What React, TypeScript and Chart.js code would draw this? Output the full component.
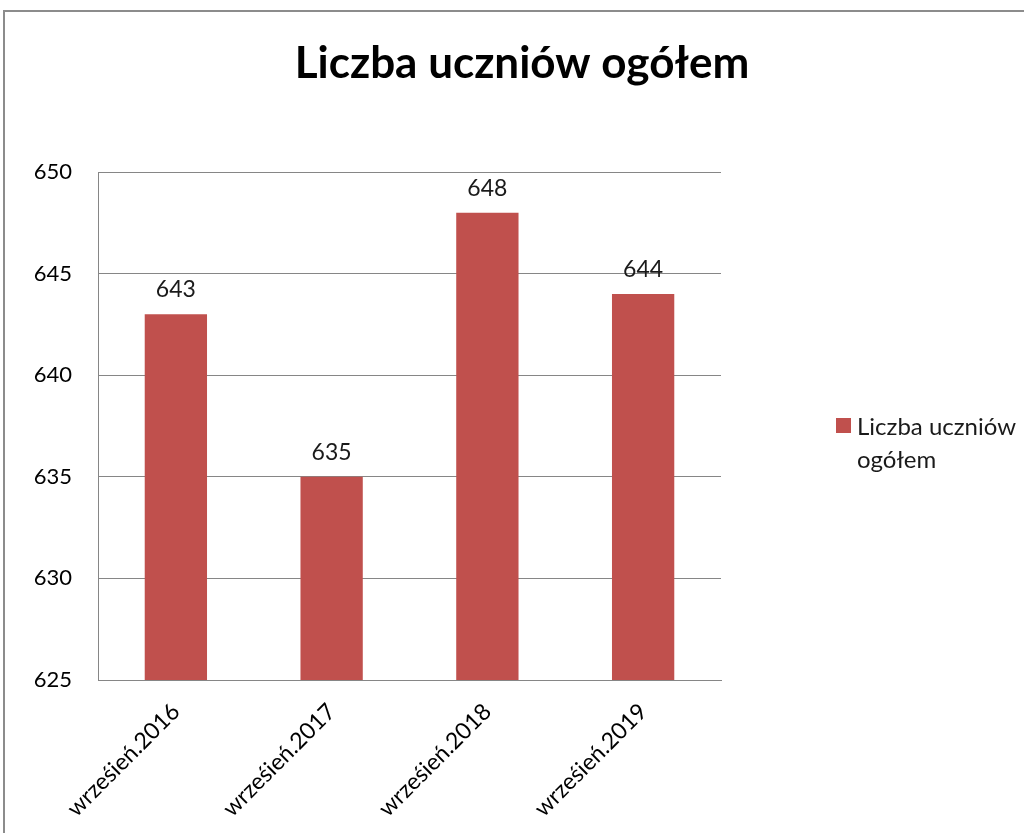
import React, { useEffect, useRef } from "react";
import { Chart, registerables } from "chart.js";

Chart.register(...registerables);

const TITLE = "Liczba uczniów ogółem";
const SERIES_NAME = "Liczba uczniów ogółem";
const categories = ["wrześień.2016", "wrześień.2017", "wrześień.2018", "wrześień.2019"];
const values = [643, 635, 648, 644];
const yMin = 625;
const yMax = 650;
const yStep = 5;

const BAR_COLOR = "#C0504D";
const GRID_COLOR = "#868686";
const FONT = "Lato, 'Open Sans', sans-serif";
const CANVAS_W = 1044;
const CANVAS_H = 900;

const titlePlugin = {
  id: "customTitle",
  afterDraw(chart: any) {
    const ctx = chart.ctx;
    ctx.save();
    ctx.font = `bold 44px ${FONT}`;
    ctx.fillStyle = "#000";
    ctx.textAlign = "center";
    ctx.textBaseline = "alphabetic";
    ctx.fillText(TITLE, CANVAS_W / 2, 78);
    ctx.restore();
  },
};

const dataLabelPlugin = {
  id: "dataLabels",
  afterDatasetsDraw(chart: any) {
    const ctx = chart.ctx;
    const meta = chart.getDatasetMeta(0);
    ctx.save();
    ctx.font = `23px ${FONT}`;
    ctx.fillStyle = "#1a1a1a";
    ctx.textAlign = "center";
    ctx.textBaseline = "alphabetic";
    meta.data.forEach((el: any, i: number) => {
      ctx.fillText(String(values[i]), el.x, el.y - 17);
    });
    ctx.restore();
  },
};

export default function App() {
  const ref = useRef<HTMLCanvasElement | null>(null);

  useEffect(() => {
    if (!ref.current) return;
    const chart = new Chart(ref.current, {
      type: "bar",
      data: {
        labels: categories,
        datasets: [
          {
            label: SERIES_NAME,
            data: values,
            backgroundColor: BAR_COLOR,
            borderWidth: 0,
            barPercentage: 0.4,
            categoryPercentage: 1,
          },
        ],
      },
      options: {
        responsive: false,
        animation: false,
        devicePixelRatio: 1,
        layout: { padding: { left: 0, right: 323, top: 172, bottom: 0 } },
        plugins: {
          legend: { display: false },
          tooltip: { enabled: false },
          title: { display: false },
        },
        scales: {
          x: {
            grid: { display: false, drawTicks: false },
            border: { display: true, color: GRID_COLOR, width: 1 },
            ticks: {
              minRotation: 45,
              maxRotation: 45,
              color: "#000",
              padding: 18,
              font: { family: FONT, size: 23 },
            },
            afterFit(scale: any) {
              scale.height = 220;
            },
          },
          y: {
            min: yMin,
            max: yMax,
            grid: { color: GRID_COLOR, lineWidth: 1, drawTicks: false },
            border: { display: true, color: GRID_COLOR, width: 1 },
            ticks: {
              stepSize: yStep,
              color: "#000",
              padding: 26,
              font: { family: FONT, size: 22 },
            },
            afterFit(scale: any) {
              scale.width = 98;
            },
          },
        },
      },
      plugins: [dataLabelPlugin, titlePlugin],
    });
    return () => chart.destroy();
  }, []);

  return (
    <div
      style={{
        position: "fixed",
        left: 0,
        top: 0,
        width: 1024,
        height: 833,
        overflow: "hidden",
        background: "#fff",
      }}
    >
      <div
        style={{
          position: "absolute",
          left: 3,
          top: 10,
          width: 1100,
          height: 900,
          border: "2px solid #8c8c8c",
          boxSizing: "border-box",
        }}
      />
      <canvas
        ref={ref}
        width={CANVAS_W}
        height={CANVAS_H}
        style={{ position: "absolute", left: 0, top: 0, width: CANVAS_W, height: CANVAS_H }}
      />
      <div
        style={{
          position: "absolute",
          left: 836,
          top: 409,
          fontFamily: FONT,
          fontSize: 24,
          lineHeight: "33px",
          color: "#1a1a1a",
        }}
      >
        <span
          style={{
            position: "absolute",
            left: 0,
            top: 9,
            width: 15,
            height: 15,
            background: BAR_COLOR,
          }}
        />
        <div style={{ paddingLeft: 21, whiteSpace: "nowrap" }}>Liczba uczniów</div>
        <div style={{ paddingLeft: 21, whiteSpace: "nowrap" }}>ogółem</div>
      </div>
    </div>
  );
}
